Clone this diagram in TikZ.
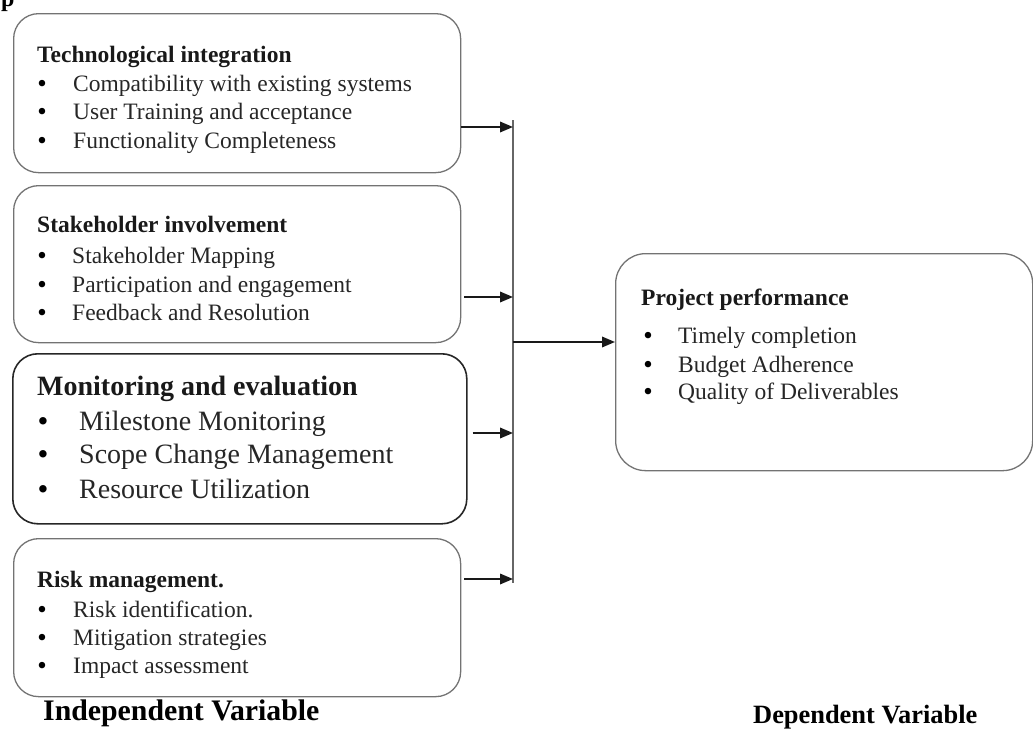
\documentclass[tikz,border=0pt]{standalone}
\usepackage{fontspec}
\setmainfont{Liberation Serif}
\usetikzlibrary{arrows.meta}
\begin{document}
\begin{tikzpicture}[x=1pt,y=-1pt,
  box/.style={draw=black!55, line width=1.3pt, rounded corners=25pt, inner sep=0pt, anchor=north west},
  boxdark/.style={box, draw=black!85, line width=1.6pt},
  ttl/.style={anchor=base west, inner sep=0pt, text=black!90, font=\fontsize{23.5}{28}\selectfont\bfseries},
  itm/.style={anchor=base west, inner sep=0pt, text=black!85, font=\fontsize{23.5}{28}\selectfont},
  bul/.style={anchor=base, inner sep=0pt, yshift=-1.5pt, font=\fontsize{27}{30}\selectfont},
  ttlL/.style={ttl, font=\fontsize{28}{34}\selectfont\bfseries},
  itmL/.style={itm, font=\fontsize{28}{34}\selectfont},
  bulL/.style={anchor=base, inner sep=0pt, yshift=-1pt, font=\fontsize{31}{36}\selectfont},
  arr/.style={-{Triangle[length=13pt,width=10.5pt]}, line width=1.8pt, draw=black!90},
  busline/.style={line width=1.3pt, draw=black!60},
  foot/.style={anchor=base west, inner sep=0pt, font=\bfseries}
]
\useasboundingbox (0,0) rectangle (1033,731);
\begin{scope}
\clip (0,0) rectangle (1033,731);
\node[anchor=base west, inner sep=0pt, font=\fontsize{24}{28}\selectfont\bfseries] (stray) at (1,6) {p};
\end{scope}

% boxes
\node[box, minimum width=447pt, minimum height=159pt] (b1) at (13,13) {};
\node[box, minimum width=447pt, minimum height=157pt] (b2) at (13,185) {};
\node[boxdark, minimum width=454pt, minimum height=170pt] (b3) at (12,353) {};
\node[box, minimum width=447pt, minimum height=158pt] (b4) at (13,538) {};
\node[box, rounded corners=30pt, minimum width=417pt, minimum height=217pt] (b5) at (615,253) {};

% box 1
\node[ttl] (t1) at (37,62) {Technological integration};
\node[bul] (u1a) at (42,91) {•};
\node[itm] (t1a) at (73,91) {Compatibility with existing systems};
\node[bul] (u1b) at (42,119) {•};
\node[itm] (t1b) at (73,119) {User Training and acceptance};
\node[bul] (u1c) at (42,148) {•};
\node[itm] (t1c) at (73,148) {Functionality Completeness};

% box 2
\node[ttl] (t2) at (37,232) {Stakeholder involvement};
\node[bul] (u2a) at (42,263) {•};
\node[itm] (t2a) at (72,263) {Stakeholder Mapping};
\node[bul] (u2b) at (42,292) {•};
\node[itm] (t2b) at (72,292) {Participation and engagement};
\node[bul] (u2c) at (42,320) {•};
\node[itm] (t2c) at (72,320) {Feedback and Resolution};

% box 3
\node[ttlL] (t3) at (37,395) {Monitoring and evaluation};
\node[bulL] (u3a) at (43,430) {•};
\node[itmL] (t3a) at (79,430) {Milestone Monitoring};
\node[bulL] (u3b) at (43,463) {•};
\node[itmL] (t3b) at (79,463) {Scope Change Management};
\node[bulL] (u3c) at (43,498) {•};
\node[itmL] (t3c) at (79,498) {Resource Utilization};

% box 4
\node[ttl] (t4) at (37,587) {Risk management.};
\node[bul] (u4a) at (42,617) {•};
\node[itm] (t4a) at (73,617) {Risk identification.};
\node[bul] (u4b) at (42,645) {•};
\node[itm] (t4b) at (73,645) {Mitigation strategies};
\node[bul] (u4c) at (42,673) {•};
\node[itm] (t4c) at (73,673) {Impact assessment};

% box 5
\node[ttl] (t5) at (641,305) {Project performance};
\node[bul] (u5a) at (648,343) {•};
\node[itm] (t5a) at (678,343) {Timely completion};
\node[bul] (u5b) at (648,372) {•};
\node[itm] (t5b) at (678,372) {Budget Adherence};
\node[bul] (u5c) at (648,399) {•};
\node[itm] (t5c) at (678,399) {Quality of Deliverables};

% bus and arrows
\coordinate (bustop) at (513,120);
\coordinate (busbot) at (513,583);
\draw[busline] (bustop) -- (busbot);
\draw[arr] (b1.east |- 0,127) -- (bustop |- 0,127);
\draw[arr] ([xshift=3pt]b2.east |- 0,297) -- (bustop |- 0,297);
\draw[arr] ([xshift=5pt]b3.east |- 0,433) -- (bustop |- 0,433);
\draw[arr] ([xshift=3pt]b4.east |- 0,579) -- (bustop |- 0,579);
\coordinate (out) at (513,342);
\draw[arr] (out) -- (b5.west |- out);

% footers
\node[foot, font=\fontsize{29.8}{34}\selectfont\bfseries] (iv) at (43,720) {Independent Variable};
\node[foot, font=\fontsize{26.4}{30}\selectfont\bfseries] (dv) at (753,723) {Dependent Variable};
\end{tikzpicture}
\end{document}
